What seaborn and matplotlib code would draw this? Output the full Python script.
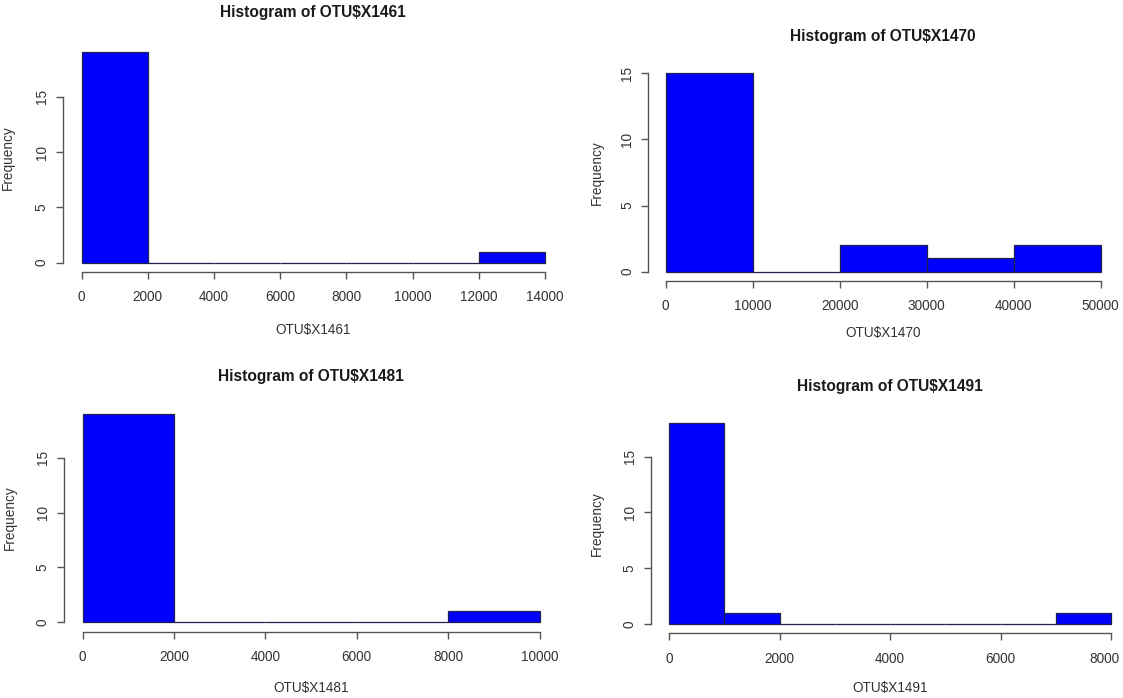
import numpy as np
import pandas as pd
import matplotlib
matplotlib.use("Agg")
import matplotlib.pyplot as plt
import matplotlib.transforms as mtransforms
import seaborn as sns

W, H = 1123, 698

# R hist() output: break points and counts per bin
x1461_breaks = [0, 2000, 4000, 6000, 8000, 10000, 12000, 14000]
x1461_counts = [19, 0, 0, 0, 0, 0, 1]
x1470_breaks = [0, 10000, 20000, 30000, 40000, 50000]
x1470_counts = [15, 0, 2, 1, 2]
x1481_breaks = [0, 2000, 4000, 6000, 8000, 10000]
x1481_counts = [19, 0, 0, 0, 1]
x1491_breaks = [0, 1000, 2000, 3000, 4000, 5000, 6000, 7000, 8000]
x1491_counts = [18, 1, 0, 0, 0, 0, 0, 1]

x1461_ticks = [0, 2000, 4000, 6000, 8000, 10000, 12000, 14000]
x1470_ticks = [0, 10000, 20000, 30000, 40000, 50000]
x1481_ticks = [0, 2000, 4000, 6000, 8000, 10000]
x1491_ticks = [0, 2000, 4000, 6000, 8000]
y_ticks = [0, 5, 10, 15]

names = ["X1461", "X1470", "X1481", "X1491"]
breaks = [x1461_breaks, x1470_breaks, x1481_breaks, x1491_breaks]
counts = [x1461_counts, x1470_counts, x1481_counts, x1491_counts]
xticks = [x1461_ticks, x1470_ticks, x1481_ticks, x1491_ticks]

# pixel layout of each screenshot panel:
# x of 0, x of last break, y of 0, y of 15, y-axis x, x-axis y, title y, xlabel y, ylabel x
layout = [
    (81.5, 545.0, 262.7, 96.7, 62.7, 272.0, 13, 330, 8),
    (665.7, 1100.7, 271.7, 73.3, 648.3, 280.7, 36, 333, 597),
    (82.7, 539.5, 622.3, 457.7, 64.0, 631.7, 377, 688, 10),
    (669.0, 1111.2, 624.0, 456.7, 650.7, 633.3, 386, 688, 597),
]

sns.set_style("ticks")
plt.rcParams['font.family'] = ['Liberation Sans', 'DejaVu Sans']
text_col = "#333333"
axis_col = "#555555"

fig = plt.figure(figsize=(W / 100, H / 100), dpi=100)

for name, brk, cnt, xt, lay in zip(names, breaks, counts, xticks, layout):
    x0, x1, y0, y15, yax, xax, ty, xly, ylx = lay
    xmax = brk[-1]
    sx = (x1 - x0) / xmax
    sy = (y0 - y15) / 15.0
    top_val = max(cnt) + 1
    left_px = yax
    right_px = x1 + (x0 - yax)
    bottom_px = xax
    top_px = y0 - top_val * sy

    ax = fig.add_axes([left_px / W, 1 - bottom_px / H,
                       (right_px - left_px) / W, (bottom_px - top_px) / H])

    df = pd.DataFrame({
        "mid": [(a + b) / 2 for a, b in zip(brk[:-1], brk[1:])],
        "n": cnt,
    })
    sns.histplot(data=df, x="mid", weights="n", bins=brk, ax=ax,
                 color="#0000ff", alpha=1, edgecolor="#202050", linewidth=0.9)

    ax.set_xlim(-(x0 - yax) / sx, xmax + (right_px - x1) / sx)
    ax.set_ylim(-(xax - y0) / sy, (y0 - top_px) / sy)

    for s in ["top", "right"]:
        ax.spines[s].set_visible(False)
    ax.spines["left"].set_bounds(0, 15)
    ax.spines["bottom"].set_bounds(0, xmax)
    for s in ["left", "bottom"]:
        ax.spines[s].set_color(axis_col)
        ax.spines[s].set_linewidth(1.0)

    ax.set_xticks(xt)
    ax.set_xticklabels([str(v) for v in xt])
    ax.set_yticks(y_ticks)
    ax.set_yticklabels([str(v) for v in y_ticks])
    ax.tick_params(axis="both", direction="out", length=5.2, width=1.0,
                   color=axis_col, labelcolor=text_col, labelsize=9.8,
                   bottom=True, left=True)
    ax.tick_params(axis="x", pad=8)
    ax.tick_params(axis="y", pad=5)
    for lab in ax.get_yticklabels():
        lab.set_rotation(90)
        lab.set_va("center")
        lab.set_ha("right")
    ax.grid(False)

    # the reference crops the last tick label at the right edge; keep it inside
    if x1 > W - 20:
        last = ax.get_xticklabels()[-1]
        last.set_transform(last.get_transform() +
                           mtransforms.ScaledTranslation(-0.07, 0, fig.dpi_scale_trans))

    axw = right_px - left_px
    axh = bottom_px - top_px
    cx = ((x0 + x1) / 2 - left_px) / axw

    ax.set_title("Histogram of OTU$" + name, fontsize=11.2, fontweight="bold",
                 color="#1a1a1a", x=cx, y=(bottom_px - ty) / axh, pad=0, va="center")
    ax.set_xlabel("OTU$" + name, fontsize=9.8, color=text_col)
    ax.xaxis.set_label_coords(cx, (bottom_px - xly) / axh)
    ax.xaxis.label.set_va("center")
    ymid = y0 - (max(cnt) / 2) * sy
    ax.set_ylabel("Frequency", fontsize=9.8, color=text_col)
    ax.yaxis.set_label_coords((ylx - left_px) / axw, (bottom_px - ymid) / axh)
    ax.yaxis.label.set_va("center")

fig.savefig("out.png", dpi=100)
